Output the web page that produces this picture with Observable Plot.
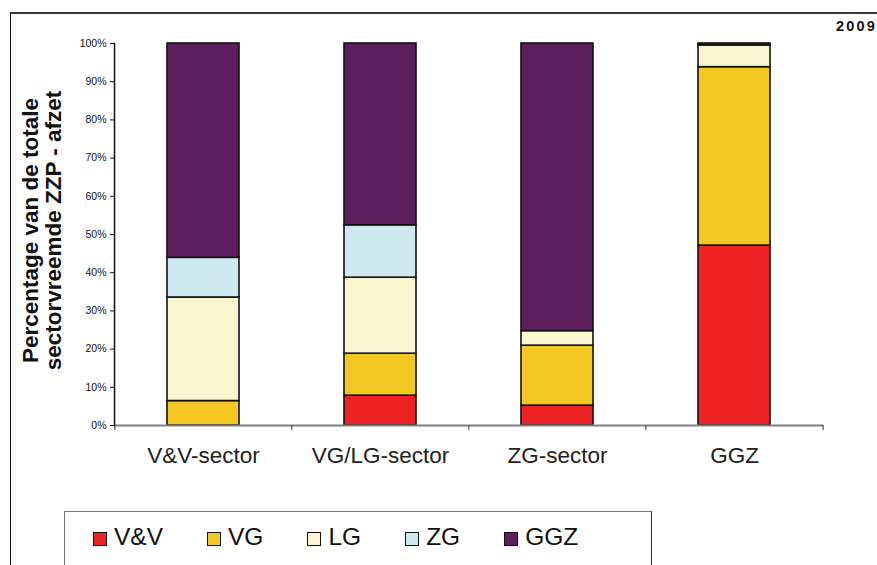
<!DOCTYPE html>
<html>
<head>
<meta charset="utf-8">
<script src="https://cdn.jsdelivr.net/npm/d3@7"></script>
<script src="https://cdn.jsdelivr.net/npm/@observablehq/plot@0.6"></script>
<style>
  html, body { margin: 0; padding: 0; background: #fff; }
  body { font-family: "Liberation Sans", Arial, sans-serif; }
  #wrap { position: relative; width: 877px; height: 565px; overflow: hidden; background: #fff; }
  #frame { position: absolute; left: 10px; top: 12px; width: 900px; height: 600px;
           border-top: 2px solid #3a3a3a; border-left: 1px solid #111; }
  #chart { position: absolute; left: 0; top: 0; }
  #year { position: absolute; right: 0px; top: 18px; font-weight: bold; font-size: 14.5px; letter-spacing: 2.2px; color: #111; }
  #legend { position: absolute; left: 64px; top: 511px; width: 588px; height: 80px; background: #fff;
            border-top: 1px solid #777; border-left: 1px solid #777; border-right: 1px solid #333;
            display: flex; align-items: flex-start; padding-left: 28px; box-sizing: border-box; gap: 44px; }
  .item { display: flex; align-items: center; margin-top: 11px; font-size: 24.5px; color: #111; }
  .sw { width: 12px; height: 12px; border: 1.5px solid #111; margin-right: 7px; margin-top: 3px; }
</style>
</head>
<body>
<div id="wrap">
  <div id="frame"></div>
  <div id="chart"></div>
  <div id="year">2009</div>
  <div id="legend"></div>
</div>
<script>
const categories = ["V&V-sector", "VG/LG-sector", "ZG-sector", "GGZ"];
const seriesNames = ["V&V", "VG", "LG", "ZG", "GGZ"];
const colors = ["#ED2224", "#F4C622", "#FAF6CF", "#CEE9EF", "#5E1F5E"];
// percentages per category, in series order V&V, VG, LG, ZG, GGZ
const vvValues  = [0,    7.8,  5.2,  47.1];
const vgValues  = [6.4,  11.0, 15.7, 46.7];
const lgValues  = [27.1, 19.9, 3.8,  5.7];
const zgValues  = [10.4, 13.7, 0,    0];
const ggzValues = [56.1, 47.6, 75.3, 0.5];
const yTicks = [0, 10, 20, 30, 40, 50, 60, 70, 80, 90, 100];
const yTitle = "Percentage van de totale\nsectorvreemde ZZP - afzet";

const seriesValues = [vvValues, vgValues, lgValues, zgValues, ggzValues];
const rows = [];
categories.forEach((c, ci) => {
  seriesNames.forEach((s, si) => {
    const v = seriesValues[si][ci];
    if (v > 0) rows.push({category: c, series: s, value: v});
  });
});

const W = 877, H = 480, mL = 114, mR = 54, mT = 43, mB = 55;
const pInner = 0.594;
const step = (W - mL - mR) / categories.length;

const plot = Plot.plot({
  width: W, height: H,
  marginLeft: mL, marginRight: mR, marginTop: mT, marginBottom: mB,
  style: {fontFamily: "'Liberation Sans', Arial, sans-serif", background: "transparent", color: "#111"},
  x: {domain: categories, paddingInner: pInner, paddingOuter: pInner / 2, label: null},
  y: {domain: [0, 100], label: null},
  color: {domain: seriesNames, range: colors},
  marks: [
    Plot.axisY({ticks: yTicks, tickFormat: d => d + "%", tickSize: 4, tickPadding: 4, fontSize: 10.5, stroke: "#111", label: null}),
    Plot.axisX({tickSize: 0, tickPadding: 22, fontSize: 22.5, label: null, fill: "#222"}),
    Plot.barY(rows, Plot.stackY({x: "category", y: "value", fill: "series", order: seriesNames, stroke: "#111", strokeWidth: 1.6})),
    Plot.ruleY([0], {stroke: "#808080", strokeWidth: 2}),
    Plot.ruleX(categories, {x: d => d, y1: 0, y2: 0, insetBottom: -5, dx: -step / 2, stroke: "#555", strokeWidth: 1.2}),
    Plot.ruleX(categories.slice(-1), {x: d => d, y1: 0, y2: 0, insetBottom: -5, dx: step / 2, stroke: "#555", strokeWidth: 1.2}),
    Plot.frame({anchor: "left", stroke: "#111", strokeWidth: 1.5}),
    Plot.text([yTitle], {frameAnchor: "left", dx: -72, dy: -4, rotate: -90, text: d => d, fontSize: 22.5, fontWeight: "bold", lineHeight: 1.0, fill: "#111", textAnchor: "middle"})
  ]
});
document.getElementById("chart").appendChild(plot);

const legend = document.getElementById("legend");
seriesNames.forEach((s, i) => {
  const item = document.createElement("div");
  item.className = "item";
  const sw = document.createElement("div");
  sw.className = "sw";
  sw.style.background = colors[i];
  const t = document.createElement("span");
  t.textContent = s;
  item.appendChild(sw);
  item.appendChild(t);
  legend.appendChild(item);
});
</script>
</body>
</html>
